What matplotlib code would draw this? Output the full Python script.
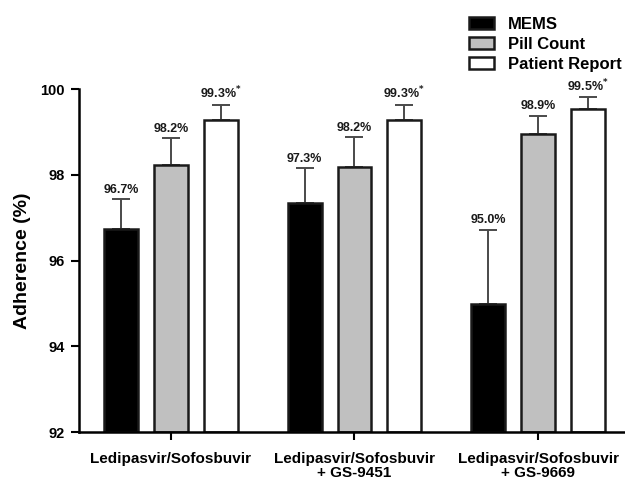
import numpy as np
import matplotlib
matplotlib.use('Agg')
import matplotlib.pyplot as plt

plt.rcParams['font.family'] = ['Liberation Sans', 'DejaVu Sans']
plt.rcParams['font.weight'] = 'bold'

groups = ['Ledipasvir/Sofosbuvir', 'Ledipasvir/Sofosbuvir\n+ GS-9451', 'Ledipasvir/Sofosbuvir\n+ GS-9669']
series = ['MEMS', 'Pill Count', 'Patient Report']
mems = [96.74, 97.34, 94.98]
pill = [98.22, 98.19, 98.95]
patient = [99.29, 99.29, 99.53]
mems_err = [0.69, 0.81, 1.74]
pill_err = [0.64, 0.69, 0.43]
patient_err = [0.34, 0.34, 0.28]
mems_lbl = ['96.7%', '97.3%', '95.0%']
pill_lbl = ['98.2%', '98.2%', '98.9%']
patient_lbl = ['99.3%$^{*}$', '99.3%$^{*}$', '99.5%$^{*}$']

colors = ['black', '#c0c0c0', 'white']

fig = plt.figure(figsize=(6.25, 4.79), dpi=100)
ax = fig.add_axes([0.1264, 0.098, 0.8736, 0.716])

x = np.arange(len(groups))
width = 0.185
offset = 0.272

data = [(mems, mems_err, mems_lbl), (pill, pill_err, pill_lbl), (patient, patient_err, patient_lbl)]
handles = []
for i, (vals, errs, lbls) in enumerate(data):
    pos = x + (i - 1) * offset
    bars = ax.bar(pos, np.array(vals) - 92, width, bottom=92, color=colors[i],
                  edgecolor='#1a1a1a', linewidth=1.8, label=series[i], zorder=2)
    ax.errorbar(pos, vals, yerr=[np.zeros(3), errs], fmt='none', ecolor='#4a4a4a',
                elinewidth=1.4, capsize=6.5, capthick=1.4, zorder=1)
    handles.append(bars)
    for p, v, e, t in zip(pos, vals, errs, lbls):
        ax.text(p, v + e + 0.08, t, ha='center', va='bottom', fontsize=9,
                fontweight='bold', color='#1a1a1a')

ax.set_ylim(92, 100)
ax.set_xlim(-0.501, 2.474)
ax.set_yticks([92, 94, 96, 98, 100])
ax.set_xticks(x)
ax.set_xticklabels(groups, fontsize=11, fontweight='bold', linespacing=1.05)
ax.tick_params(axis='y', labelsize=10.5, width=1.5, length=6, pad=4)
ax.tick_params(axis='x', width=1.5, length=6, pad=8)
for lab in ax.get_yticklabels():
    lab.set_fontweight('bold')
ax.set_ylabel('Adherence (%)', fontsize=14, fontweight='bold', labelpad=7)

ax.spines['top'].set_visible(False)
ax.spines['right'].set_visible(False)
ax.spines['left'].set_linewidth(1.8)
ax.spines['bottom'].set_linewidth(1.8)

fig.legend(handles=handles, labels=series, loc='upper left', bbox_to_anchor=(0.735, 0.985),
           frameon=False, fontsize=12, handlelength=1.5, handleheight=0.75,
           labelspacing=0.3, handletextpad=0.8, borderaxespad=0.2)

fig.savefig('out.png', dpi=100)
